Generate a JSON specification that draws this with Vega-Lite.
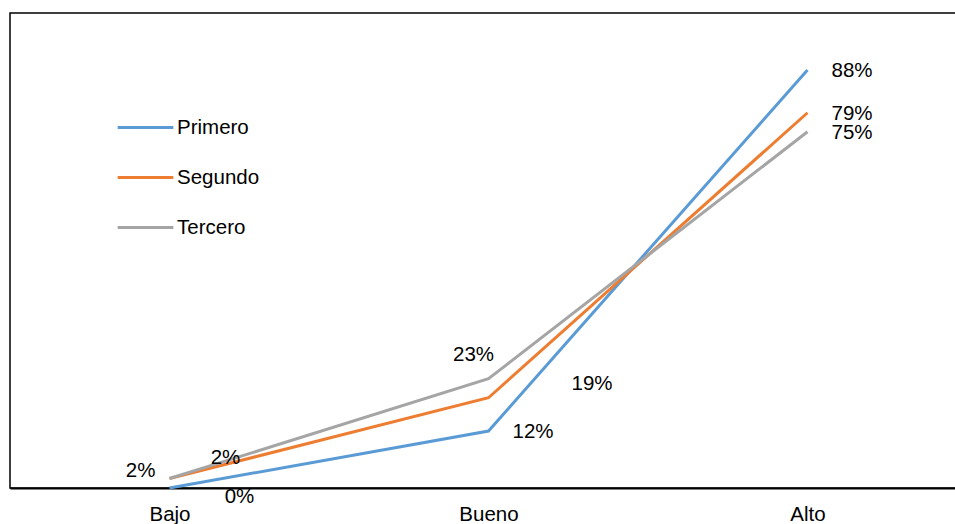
{
  "$schema": "https://vega.github.io/schema/vega-lite/v6.json",
  "autosize": "none",
  "width": 957,
  "height": 475,
  "padding": {"left": 10, "top": 13, "right": 0, "bottom": 40},
  "background": "white",
  "config": {
    "font": "Liberation Sans",
    "view": {"stroke": "#000000", "strokeWidth": 1.5}
  },
  "data": {
    "values": [
      {"nivel": "Bajo", "grupo": "Primero", "valor": 0},
      {"nivel": "Bueno", "grupo": "Primero", "valor": 12},
      {"nivel": "Alto", "grupo": "Primero", "valor": 88},
      {"nivel": "Bajo", "grupo": "Segundo", "valor": 2},
      {"nivel": "Bueno", "grupo": "Segundo", "valor": 19},
      {"nivel": "Alto", "grupo": "Segundo", "valor": 79},
      {"nivel": "Bajo", "grupo": "Tercero", "valor": 2},
      {"nivel": "Bueno", "grupo": "Tercero", "valor": 23},
      {"nivel": "Alto", "grupo": "Tercero", "valor": 75}
    ]
  },
  "transform": [
    {"calculate": "datum.valor + '%'", "as": "etiqueta"}
  ],
  "encoding": {
    "x": {
      "field": "nivel",
      "type": "nominal",
      "sort": ["Bajo", "Bueno", "Alto"],
      "scale": {"type": "point", "padding": 0.5},
      "axis": {
        "title": null,
        "labelAngle": 0,
        "labelFontSize": 20.5,
        "labelColor": "#000000",
        "labelPadding": 16,
        "labelBaseline": "top",
        "ticks": false,
        "domainColor": "#000000",
        "domainWidth": 2
      }
    },
    "y": {
      "field": "valor",
      "type": "quantitative",
      "scale": {"domain": [0, 100]},
      "axis": null
    }
  },
  "layer": [
    {
      "mark": {"type": "line", "strokeWidth": 3},
      "encoding": {
        "color": {
          "field": "grupo",
          "type": "nominal",
          "scale": {
            "domain": ["Primero", "Segundo", "Tercero"],
            "range": ["#5B9BD5", "#ED7D31", "#A5A5A5"]
          },
          "legend": {
            "title": null,
            "orient": "none",
            "legendX": 106,
            "legendY": 85,
            "symbolType": "stroke",
            "symbolSize": 3100,
            "symbolStrokeWidth": 3,
            "labelFontSize": 20.5,
            "labelColor": "#000000",
            "labelOffset": 2,
            "rowPadding": 10,
            "padding": 0
          }
        }
      }
    },
    {
      "transform": [{"filter": "datum.nivel == 'Alto' || (datum.nivel == 'Bueno' && datum.grupo == 'Primero')"}],
      "mark": {"type": "text", "align": "left", "baseline": "middle", "dx": 24, "dy": 1, "fontSize": 20.5, "color": "#000000"},
      "encoding": {"text": {"field": "etiqueta"}}
    },
    {
      "transform": [{"filter": "datum.nivel == 'Bueno' && datum.grupo == 'Tercero'"}],
      "mark": {"type": "text", "align": "center", "baseline": "middle", "dx": -15, "dy": -24, "fontSize": 20.5, "color": "#000000"},
      "encoding": {"text": {"field": "etiqueta"}}
    },
    {
      "transform": [{"filter": "datum.nivel == 'Bueno' && datum.grupo == 'Segundo'"}],
      "mark": {"type": "text", "align": "left", "baseline": "middle", "dx": 83, "dy": -14, "fontSize": 20.5, "color": "#000000"},
      "encoding": {"text": {"field": "etiqueta"}}
    },
    {
      "transform": [{"filter": "datum.nivel == 'Bajo' && datum.grupo == 'Tercero'"}],
      "mark": {"type": "text", "align": "right", "baseline": "middle", "dx": -14, "dy": -8, "fontSize": 20.5, "color": "#000000"},
      "encoding": {"text": {"field": "etiqueta"}}
    },
    {
      "transform": [{"filter": "datum.nivel == 'Bajo' && datum.grupo == 'Segundo'"}],
      "mark": {"type": "text", "align": "center", "baseline": "middle", "dx": 56, "dy": -21, "fontSize": 20.5, "color": "#000000"},
      "encoding": {"text": {"field": "etiqueta"}}
    },
    {
      "transform": [{"filter": "datum.nivel == 'Bajo' && datum.grupo == 'Primero'"}],
      "mark": {"type": "text", "align": "center", "baseline": "middle", "dx": 70, "dy": 9, "fontSize": 20.5, "color": "#000000"},
      "encoding": {"text": {"field": "etiqueta"}}
    }
  ]
}
